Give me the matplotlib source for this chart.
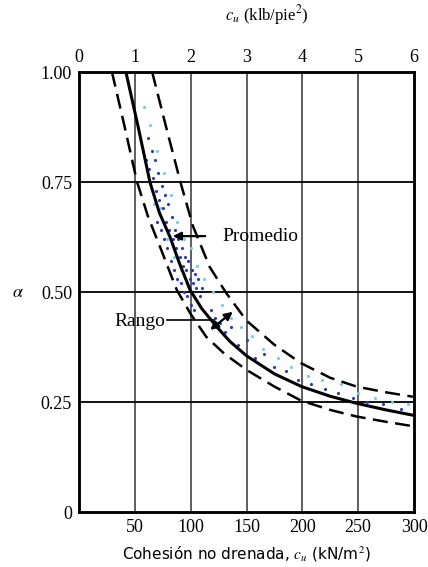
import matplotlib.pyplot as plt

plt.rcParams['font.family'] = ['Liberation Serif', 'DejaVu Serif']
plt.rcParams['mathtext.fontset'] = 'stix'

# Curves: cohesion cu (kN/m2) vs alpha
avg_cu = [42, 53, 63.5, 72, 81.5, 90, 99.4, 110, 123, 135, 150, 175, 199.4, 225, 248.6, 275, 299]
avg_alpha = [1.0, 0.875, 0.75, 0.68, 0.625, 0.565, 0.505, 0.462, 0.422, 0.388, 0.355, 0.314, 0.285,
             0.263, 0.247, 0.232, 0.22]

low_cu = [29.5, 40, 52, 62, 72.5, 87.5, 100, 114, 130, 150, 175, 199, 225, 248.6, 275, 299]
low_alpha = [1.0, 0.885, 0.75, 0.67, 0.603, 0.505, 0.45, 0.398, 0.36, 0.323, 0.285, 0.253, 0.232,
             0.217, 0.205, 0.195]

up_cu = [65.5, 78, 90.8, 102, 117, 132, 150, 175, 199, 225, 248.6, 275, 299]
up_alpha = [1.0, 0.875, 0.75, 0.65, 0.557, 0.497, 0.435, 0.38, 0.338, 0.305, 0.285, 0.272, 0.262]

# Field data points (speckle inside the band)
blue_cu = [60, 63, 66, 69, 72, 75, 78, 81, 84, 87, 90, 93, 96, 99, 102, 105, 108,
           62, 65, 68, 71, 74, 77, 80, 83, 86, 89, 92, 95, 98, 101, 104, 107, 110,
           70, 73, 76, 79, 82, 85, 88, 91, 94, 97, 100, 103,
           118, 122, 126, 131, 136, 142, 150, 158, 166, 175, 185, 196, 208, 220, 232, 245, 258, 272, 288]
blue_alpha = [0.80, 0.78, 0.76, 0.73, 0.71, 0.69, 0.66, 0.64, 0.62, 0.60, 0.58, 0.56, 0.55, 0.53, 0.52, 0.51, 0.49,
              0.85, 0.82, 0.80, 0.77, 0.74, 0.72, 0.70, 0.67, 0.64, 0.62, 0.60, 0.58, 0.57, 0.55, 0.54, 0.53, 0.51,
              0.66, 0.64, 0.62, 0.60, 0.57, 0.55, 0.53, 0.52, 0.50, 0.49, 0.47, 0.46,
              0.46, 0.44, 0.43, 0.41, 0.42, 0.38, 0.39, 0.35, 0.36, 0.33, 0.32, 0.30, 0.29, 0.28, 0.27, 0.26, 0.25,
              0.245, 0.235]

cyan_cu = [58, 64, 70, 76, 82, 88, 94, 100, 106, 112, 120, 128, 136, 145, 155, 165, 178, 190, 205, 218,
           235, 250, 265, 280, 295, 67, 73, 79, 85, 91]
cyan_alpha = [0.92, 0.88, 0.82, 0.77, 0.72, 0.66, 0.62, 0.60, 0.56, 0.53, 0.50, 0.47, 0.44, 0.42, 0.40,
              0.37, 0.35, 0.33, 0.31, 0.30, 0.29, 0.27, 0.26, 0.25, 0.245, 0.70, 0.69, 0.62, 0.58, 0.55]

bottom_ticks = [50, 100, 150, 200, 250, 300]
top_ticks = [0, 1, 2, 3, 4, 5, 6]
y_ticks = [0, 0.25, 0.50, 0.75, 1.00]
y_labels = ['0', '0.25', '0.50', '0.75', '1.00']

fig = plt.figure(figsize=(4.28, 5.67), dpi=100)
ax = fig.add_axes([0.1846, 0.097, 0.7827, 0.776])

for x in bottom_ticks[:-1]:
    ax.axvline(x, color='#333333', lw=1.1, zorder=1)
for y in y_ticks[1:-1]:
    ax.axhline(y, color='black', lw=1.3, zorder=1)

ax.scatter(cyan_cu, cyan_alpha, s=5, color='#63d3f2', zorder=2, linewidths=0)
ax.scatter(blue_cu, blue_alpha, s=5, color='#1f35e6', zorder=2, linewidths=0)

ax.plot(avg_cu, avg_alpha, color='black', lw=2.2, zorder=3)
ax.plot(low_cu, low_alpha, color='black', lw=1.8, ls=(0, (6, 3)), zorder=3)
ax.plot(up_cu, up_alpha, color='black', lw=1.8, ls=(0, (6, 3)), zorder=3)

# Annotations
ax.annotate('', xy=(81.5, 0.627), xytext=(115.5, 0.627),
            arrowprops=dict(arrowstyle='-|>', lw=1.6, color='black', mutation_scale=12))
ax.text(128, 0.627, 'Promedio', fontsize=14, va='center', ha='left')

ax.text(77, 0.434, 'Rango', fontsize=14, va='center', ha='right')
ax.plot([79, 121], [0.436, 0.436], color='black', lw=1.2)
ax.annotate('', xy=(115.5, 0.41), xytext=(139.6, 0.459),
            arrowprops=dict(arrowstyle='<|-|>', lw=1.6, color='black', mutation_scale=12))

ax.set_xlim(0, 300)
ax.set_ylim(0, 1.0)
ax.set_xticks(bottom_ticks)
ax.set_yticks(y_ticks)
ax.set_yticklabels(y_labels)
ax.tick_params(length=0, labelsize=13, pad=5)
for s in ax.spines.values():
    s.set_linewidth(1.8)

ax.set_xlabel('Cohesión no drenada, $c_u$ (kN/m$^2$)', fontsize=11,
              family=['DejaVu Sans'], labelpad=6)
ax.set_ylabel(r'$\alpha$', fontsize=13, rotation=0, va='center')
ax.yaxis.set_label_coords(-0.182, 0.5)

top = ax.twiny()
top.set_xlim(0, 6)
top.set_xticks(top_ticks)
top.tick_params(length=0, labelsize=13, pad=4)
top.set_xlabel('$c_u$ (klb/pie$^2$)', fontsize=12, va='center')
top.xaxis.set_label_coords(0.561, 1.13)
for s in top.spines.values():
    s.set_linewidth(1.8)

fig.savefig('out.png', dpi=100)
